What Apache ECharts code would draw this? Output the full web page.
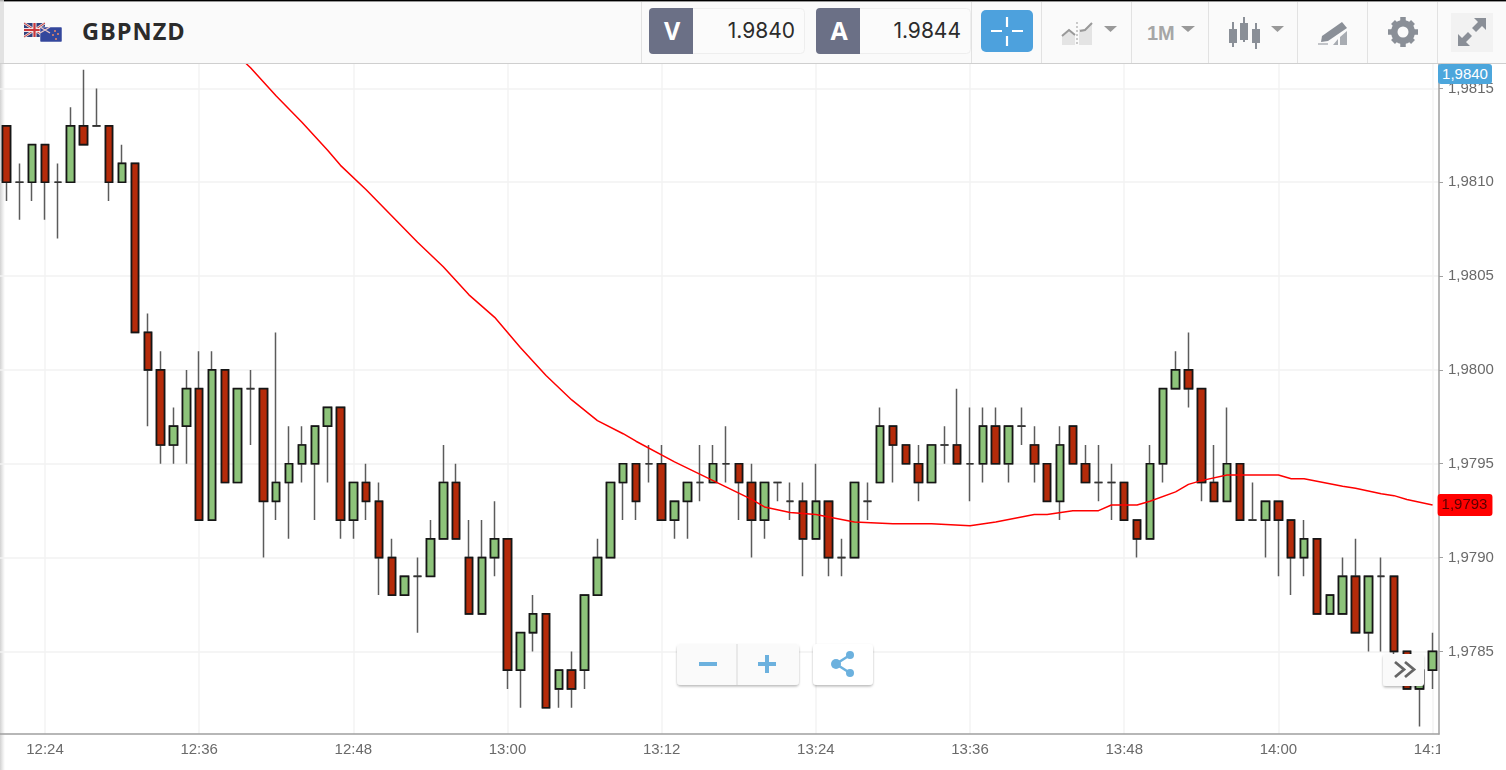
<!DOCTYPE html>
<html><head><meta charset="utf-8">
<style>
html,body{margin:0;padding:0;background:#fff;width:1506px;height:770px;overflow:hidden;font-family:"Liberation Sans",sans-serif}
#chart{position:absolute;left:0;top:0;width:1506px;height:770px}
.ov{position:absolute}
</style>
<script src="https://cdn.jsdelivr.net/npm/echarts@6/dist/echarts.min.js"></script>
</head><body>
<div class="ov" style="left:0;top:0;width:5px;height:770px;background:linear-gradient(to right,#d2d2d2,#efefef 60%,#fff)"></div>
<div id="chart"></div>

<div class="ov" style="left:1440px;top:738px;width:66px;height:32px;background:#fff"></div>

<!-- price tag -->
<div class="ov" style="left:1438px;top:64px;width:54px;height:20px;background:#4ca6dc;border-radius:3px;color:#fff;font-size:15px;line-height:20px;text-align:center">1,9840</div>

<!-- toolbar -->
<svg class="ov" style="left:0;top:0" width="1506" height="64" viewBox="0 0 1506 64" xmlns="http://www.w3.org/2000/svg">
  <defs><filter id="s" x="-10%" y="-10%" width="120%" height="130%"><feDropShadow dx="0" dy="1.5" stdDeviation=".8" flood-color="#000" flood-opacity=".28"/></filter></defs>
  <rect x="0" y="0" width="1506" height="64" fill="#fafafa"/>
  <rect x="0" y="0" width="1506" height="1.4" fill="#000"/>
  <rect x="0" y="63" width="1506" height="1.2" fill="#cfcfcf"/>
  <rect x="0" y="0" width="4" height="63" fill="#dcdcdc" opacity=".8"/>
  <g stroke="#e2e2e2" stroke-width="1">
    <line x1="641.5" y1="2" x2="641.5" y2="63"/><line x1="971.5" y1="2" x2="971.5" y2="63"/>
    <line x1="1041.5" y1="2" x2="1041.5" y2="63"/><line x1="1131.5" y1="2" x2="1131.5" y2="63"/>
    <line x1="1208.5" y1="2" x2="1208.5" y2="63"/><line x1="1297.5" y1="2" x2="1297.5" y2="63"/>
    <line x1="1367.5" y1="2" x2="1367.5" y2="63"/><line x1="1437.5" y1="2" x2="1437.5" y2="63"/>
  </g>
  <!-- flags -->
  <rect x="24" y="23" width="21" height="14" rx="1" fill="#2f3f7c"/>
  <path d="M24 23L45 37M45 23L24 37" stroke="#e8e0e0" stroke-width="2.6"/>
  <path d="M24 23L45 37M45 23L24 37" stroke="#c8383c" stroke-width="1"/>
  <path d="M34.5 23V37M24 30H45" stroke="#f2e6e6" stroke-width="4"/>
  <path d="M34.5 23V37M24 30H45" stroke="#c8383c" stroke-width="2.2"/>
  <rect x="40" y="27" width="22" height="15" rx="1" fill="#34479c" stroke="#fff" stroke-width=".5"/>
  <path d="M40 27L50 33M50 27L40 33" stroke="#e9c6c6" stroke-width="1.4"/>
  <circle cx="55" cy="31" r="1" fill="#ee8866"/><circle cx="58" cy="34" r="1" fill="#ee8866"/><circle cx="53" cy="35" r="1" fill="#ee8866"/><circle cx="56" cy="39" r="1" fill="#ee8866"/>
  <text x="82" y="40" font-family="'Open Sans',sans-serif" font-weight="700" font-size="23.5" letter-spacing="1" fill="#2b2b2b">GBPNZD</text>

  <rect x="649.5" y="8.5" width="155" height="45" rx="4" fill="#fbfbfb" stroke="#eeeeee"/>
  <path d="M653 8H693V54H653a4 4 0 0 1-4-4V12a4 4 0 0 1 4-4z" fill="#6b7086"/>
  <text x="672" y="40" text-anchor="middle" font-family="'Open Sans',sans-serif" font-weight="700" font-size="25" fill="#fff">V</text>
  <text x="795" y="38" text-anchor="end" font-family="Inter,Roboto,sans-serif" font-size="21" fill="#2c2c2c">1.9840</text>

  <rect x="816.5" y="8.5" width="154" height="45" rx="4" fill="#fbfbfb" stroke="#eeeeee"/>
  <path d="M820 8H860V54H820a4 4 0 0 1-4-4V12a4 4 0 0 1 4-4z" fill="#6b7086"/>
  <text x="839" y="40" text-anchor="middle" font-family="'Open Sans',sans-serif" font-weight="700" font-size="25" fill="#fff">A</text>
  <text x="961" y="38" text-anchor="end" font-family="Inter,Roboto,sans-serif" font-size="21" fill="#2c2c2c">1.9844</text>

  <rect x="981" y="10" width="52" height="42" rx="5" fill="#4da1dd"/>
  <path d="M991 31H1002M1012 31H1023M1007 17V27M1007 36V46" stroke="#fff" stroke-width="2.2"/>

  <!-- compare icon -->
  <path d="M1062 35L1069 29L1075 34V45H1062Z" fill="#e4e4e4"/>
  <path d="M1079 29L1085 29L1092 23V45H1079Z" fill="#e4e4e4"/>
  <path d="M1062 36L1069 30L1075 35" fill="none" stroke="#999" stroke-width="2"/>
  <path d="M1080 31L1085 30L1092 23" fill="none" stroke="#999" stroke-width="2"/>
  <line x1="1077" y1="22" x2="1077" y2="46" stroke="#999" stroke-width="1" stroke-dasharray="2 2"/>
  <path d="M1104 26H1117L1110.5 32Z" fill="#999"/>
  <text x="1147" y="40" font-family="'Liberation Sans',sans-serif" font-weight="700" font-size="20" fill="#a6a6a6">1M</text>
  <path d="M1181 26H1195L1188 32Z" fill="#999"/>
  <!-- candles icon -->
  <g fill="#8a8f97">
    <rect x="1229" y="29" width="8" height="14"/><rect x="1232" y="22" width="2" height="25"/>
    <rect x="1240" y="23" width="8" height="17"/><rect x="1243" y="17" width="2" height="25"/>
    <rect x="1252" y="29" width="8" height="14"/><rect x="1255" y="23" width="2" height="26"/>
  </g>
  <path d="M1271 26H1284L1277.5 32Z" fill="#999"/>
  <!-- draw icon -->
  <path d="M1322 36L1342 22L1347 28L1328 41L1321 42Z" fill="#8a8f97"/>
  <path d="M1333 45L1338 39V45ZM1340 45V37L1347 31V45Z" fill="#a8acb2"/>
  <path d="M1318 44H1328" stroke="#8a8f97" stroke-width="1"/>
  <!-- gear -->
  <circle cx="1403" cy="32" r="12" fill="#8a8f97"/>
  <g stroke="#8a8f97" stroke-width="5.5">
    <line x1="1403" y1="17" x2="1403" y2="47"/><line x1="1388" y1="32" x2="1418" y2="32"/>
    <line x1="1393" y1="22" x2="1413" y2="42"/><line x1="1413" y1="22" x2="1393" y2="42"/>
  </g>
  <circle cx="1403" cy="32" r="5.5" fill="#fafafa"/>
  <!-- expand -->
  <rect x="1451" y="13" width="42" height="39" fill="#f2f2f2"/>
  <g fill="#8a8f97">
    <path d="M1474 18H1486V30L1482 26L1476 32L1472 28L1478 22Z"/>
    <path d="M1458 46V34L1462 38L1468 32L1472 36L1466 42L1470 46Z"/>
  </g>
</svg>

<!-- zoom buttons -->
<svg class="ov" style="left:670px;top:638px" width="210" height="56" viewBox="670 638 210 56" xmlns="http://www.w3.org/2000/svg">
  <rect x="677" y="644" width="122" height="41" rx="4" fill="#fafafa" filter="url(#s)"/>
  <rect x="813" y="644" width="60" height="41" rx="4" fill="#fff" filter="url(#s)"/>
  <line x1="737" y1="644" x2="737" y2="685" stroke="#d8d8d8"/>
  <path d="M699 664H717M758 664H776M767 655V673" stroke="#6cb1de" stroke-width="4"/>
  <path d="M850 655L836 664L850 673" fill="none" stroke="#6cb1de" stroke-width="2.5"/>
  <circle cx="850" cy="655" r="4" fill="#6cb1de"/><circle cx="850" cy="673" r="4" fill="#6cb1de"/><circle cx="836" cy="664" r="5" fill="#6cb1de"/>
</svg>
<svg class="ov" style="left:1378px;top:650px" width="52" height="42" viewBox="1378 650 52 42" xmlns="http://www.w3.org/2000/svg">
  <rect x="1383" y="654" width="41" height="32" rx="3" fill="#fafafa" filter="url(#s)"/>
  <path d="M1395 662L1404 669.5L1395 677M1405 662L1414 669.5L1405 677" fill="none" stroke="#666" stroke-width="2.8"/>
</svg>

<script>
const minutes = ['12:21','12:22','12:23','12:24','12:25','12:26','12:27','12:28','12:29','12:30','12:31','12:32','12:33','12:34','12:35','12:36','12:37','12:38','12:39','12:40','12:41','12:42','12:43','12:44','12:45','12:46','12:47','12:48','12:49','12:50','12:51','12:52','12:53','12:54','12:55','12:56','12:57','12:58','12:59','13:00','13:01','13:02','13:03','13:04','13:05','13:06','13:07','13:08','13:09','13:10','13:11','13:12','13:13','13:14','13:15','13:16','13:17','13:18','13:19','13:20','13:21','13:22','13:23','13:24','13:25','13:26','13:27','13:28','13:29','13:30','13:31','13:32','13:33','13:34','13:35','13:36','13:37','13:38','13:39','13:40','13:41','13:42','13:43','13:44','13:45','13:46','13:47','13:48','13:49','13:50','13:51','13:52','13:53','13:54','13:55','13:56','13:57','13:58','13:59','14:00','14:01','14:02','14:03','14:04','14:05','14:06','14:07','14:08','14:09','14:10','14:11','14:12'];

const opens = [1.9813,1.9810,1.9810,1.9812,1.9810,1.9810,1.9813,1.9813,1.9813,1.9810,1.9811,1.9802,1.9800,1.9796,1.9797,1.9799,1.9792,1.9800,1.9794,1.9799,1.9799,1.9793,1.9794,1.9795,1.9795,1.9797,1.9798,1.9792,1.9794,1.9793,1.9790,1.9788,1.9789,1.9789,1.9791,1.9794,1.9790,1.9787,1.9790,1.9791,1.9784,1.9786,1.9787,1.9783,1.9784,1.9784,1.9788,1.9790,1.9794,1.9795,1.9795,1.9795,1.9792,1.9793,1.9794,1.9794,1.9795,1.9795,1.9794,1.9792,1.9794,1.9793,1.9793,1.9791,1.9793,1.9790,1.9790,1.9793,1.9794,1.9797,1.9796,1.9795,1.9794,1.9796,1.9796,1.9795,1.9795,1.9797,1.9795,1.9797,1.9796,1.9795,1.9793,1.9797,1.9795,1.9794,1.9794,1.9794,1.9792,1.9791,1.9795,1.9799,1.9800,1.9799,1.9794,1.9793,1.9795,1.9792,1.9792,1.9793,1.9792,1.9790,1.9791,1.9787,1.9787,1.9789,1.9786,1.9789,1.9789,1.9785,1.9783,1.9784];
const closes = [1.9810,1.9810,1.9812,1.9810,1.9810,1.9813,1.9812,1.9813,1.9810,1.9811,1.9802,1.9800,1.9796,1.9797,1.9799,1.9792,1.9800,1.9794,1.9799,1.9799,1.9793,1.9794,1.9795,1.9796,1.9797,1.9798,1.9792,1.9794,1.9793,1.9790,1.9788,1.9789,1.9789,1.9791,1.9794,1.9791,1.9787,1.9790,1.9791,1.9784,1.9786,1.9787,1.9782,1.9784,1.9783,1.9788,1.9790,1.9794,1.9795,1.9793,1.9795,1.9792,1.9793,1.9794,1.9794,1.9795,1.9795,1.9794,1.9792,1.9794,1.9794,1.9793,1.9791,1.9793,1.9790,1.9790,1.9794,1.9793,1.9797,1.9796,1.9795,1.9794,1.9796,1.9796,1.9795,1.9795,1.9797,1.9795,1.9797,1.9797,1.9795,1.9793,1.9796,1.9795,1.9794,1.9794,1.9794,1.9792,1.9791,1.9795,1.9799,1.9800,1.9799,1.9794,1.9793,1.9795,1.9792,1.9792,1.9793,1.9792,1.9790,1.9791,1.9787,1.9788,1.9789,1.9786,1.9789,1.9789,1.9785,1.9783,1.9784,1.9785];
const lows = [1.9809,1.9808,1.9809,1.9808,1.9807,1.9810,1.9812,1.9813,1.9809,1.9810,1.9802,1.9797,1.9795,1.9795,1.9795,1.9792,1.9792,1.9794,1.9794,1.9796,1.9790,1.9792,1.9791,1.9794,1.9792,1.9794,1.9791,1.9791,1.9792,1.9788,1.9788,1.9788,1.9786,1.9789,1.9791,1.9791,1.9787,1.9787,1.9789,1.9783,1.9782,1.9785,1.9782,1.9782,1.9782,1.9783,1.9788,1.9790,1.9792,1.9792,1.9794,1.9792,1.9791,1.9791,1.9793,1.9794,1.9794,1.9792,1.9790,1.9791,1.9793,1.9792,1.9789,1.9791,1.9789,1.9789,1.9790,1.9792,1.9794,1.9794,1.9795,1.9793,1.9794,1.9795,1.9795,1.9793,1.9794,1.9795,1.9794,1.9796,1.9794,1.9793,1.9792,1.9795,1.9794,1.9793,1.9792,1.9792,1.9790,1.9791,1.9794,1.9799,1.9798,1.9793,1.9793,1.9793,1.9792,1.9792,1.9790,1.9789,1.9788,1.9789,1.9787,1.9787,1.9787,1.9786,1.9785,1.9785,1.9784,1.9783,1.9781,1.9783];
const highs = [1.9813,1.9811,1.9812,1.9812,1.9811,1.9814,1.9816,1.9815,1.9813,1.9812,1.9811,1.9803,1.9801,1.9798,1.9800,1.9801,1.9801,1.9800,1.9799,1.9800,1.9799,1.9802,1.9797,1.9797,1.9797,1.9798,1.9798,1.9794,1.9795,1.9794,1.9791,1.9789,1.9790,1.9792,1.9796,1.9795,1.9792,1.9792,1.9793,1.9791,1.9786,1.9788,1.9787,1.9784,1.9785,1.9788,1.9791,1.9794,1.9795,1.9795,1.9796,1.9796,1.9793,1.9794,1.9796,1.9796,1.9797,1.9795,1.9795,1.9794,1.9794,1.9794,1.9794,1.9795,1.9793,1.9791,1.9794,1.9794,1.9798,1.9797,1.9796,1.9796,1.9796,1.9797,1.9799,1.9798,1.9798,1.9798,1.9797,1.9798,1.9797,1.9795,1.9797,1.9797,1.9796,1.9796,1.9795,1.9794,1.9792,1.9796,1.9799,1.9801,1.9802,1.9799,1.9796,1.9798,1.9795,1.9794,1.9793,1.9793,1.9792,1.9792,1.9791,1.9788,1.9790,1.9791,1.9789,1.9790,1.9789,1.9785,1.9784,1.9786];

const avgMinute = ['12:38','12:40','12:42','12:44','12:46','12:47','12:49','12:51','12:53','12:55','12:57','12:59','13:01','13:03','13:05','13:07','13:09','13:10','13:13','13:16','13:19','13:20','13:22','13:24','13:27','13:30','13:33','13:36','13:38','13:41','13:42','13:44','13:46','13:47','13:49','13:50','13:52','13:53','13:54','13:56','13:57','14:00','14:01','14:02','14:05','14:06','14:08','14:09','14:10','14:12'];
const avgPrice = [1.98174,1.98161,1.98146,1.98132,1.98117,1.98109,1.98096,1.98082,1.98068,1.98055,1.98040,1.98028,1.98012,1.97997,1.97984,1.97973,1.97966,1.97962,1.97951,1.97941,1.97931,1.97927,1.97924,1.97923,1.97919,1.97918,1.97918,1.97917,1.97919,1.97923,1.97923,1.97925,1.97925,1.97928,1.97928,1.97930,1.97935,1.97939,1.97941,1.97944,1.97944,1.97944,1.97942,1.97942,1.97938,1.97937,1.97934,1.97933,1.97931,1.97928];

const priceTicks = [1.9785,1.9790,1.9795,1.9800,1.9805,1.9810,1.9815];
const timeTicks = ['12:24','12:36','12:48','13:00','13:12','13:24','13:36','13:48','14:00','14:12'];
const lastAvgLabel = '1,9793';

const candles = opens.map((o,i)=>[o,closes[i],lows[i],highs[i]]);
const bodies = opens.map((o,i)=>[o,closes[i],Math.min(o,closes[i]),Math.max(o,closes[i])]);
const avgLine = avgMinute.map((m,i)=>[m,avgPrice[i]]);
const isTimeTick = (i,v)=>timeTicks.includes(v);
const axisFont = {fontFamily:'"Liberation Sans",sans-serif',fontSize:15,color:'#6a6a6a'};

const chart = echarts.init(document.getElementById('chart'),null,{renderer:'canvas'});
chart.setOption({
  animation:false,
  backgroundColor:'transparent',
  grid:{left:0,top:64,width:1439,height:670,containLabel:false},
  xAxis:{
    type:'category',data:minutes,boundaryGap:true,
    axisLine:{lineStyle:{color:'#a0a0a0',width:1.5}},
    axisTick:{interval:isTimeTick,alignWithLabel:true,length:6,lineStyle:{color:'#a0a0a0'}},
    axisLabel:Object.assign({interval:isTimeTick,margin:8,hideOverlap:false,showMaxLabel:true},axisFont),
    splitLine:{show:true,interval:isTimeTick,alignWithLabel:true,lineStyle:{color:'#f3f3f3',width:1.5}}
  },
  yAxis:{
    type:'value',position:'right',scale:true,min:1.97806,max:1.98163,
    axisLine:{show:true,lineStyle:{color:'#a0a0a0',width:1.5}},
    axisTick:{show:true,length:4,customValues:priceTicks,lineStyle:{color:'#a0a0a0'}},
    axisLabel:Object.assign({margin:9,customValues:priceTicks,formatter:v=>v.toFixed(4).replace('.',',')},axisFont),
    splitLine:{show:true,lineStyle:{color:'#f2f2f2',width:1.5}}
  },
  series:[
    {type:'candlestick',data:candles,barWidth:8,barGap:'-100%',
     itemStyle:{color:'#8DC37A',color0:'#B52B0A',borderColor:'#5c5c5c',borderColor0:'#5c5c5c',borderColorDoji:'#5c5c5c',borderWidth:1.5},z:2},
    {type:'candlestick',data:bodies,barWidth:8,barGap:'-100%',
     itemStyle:{color:'#8DC37A',color0:'#B52B0A',borderColor:'#161616',borderColor0:'#161616',borderColorDoji:'#333',borderWidth:1.7},z:2},
    {type:'line',data:avgLine,showSymbol:false,symbol:'none',smooth:false,clip:true,z:3,
     lineStyle:{color:'#ff0000',width:1.5},
     endLabel:{show:true,formatter:()=>lastAvgLabel,distance:5,backgroundColor:'#ff0000',borderRadius:3,
       color:'#5a0000',fontFamily:'"Liberation Sans",sans-serif',fontSize:15,padding:[4,5,3,4]}}
  ]
});
</script>
</body></html>
